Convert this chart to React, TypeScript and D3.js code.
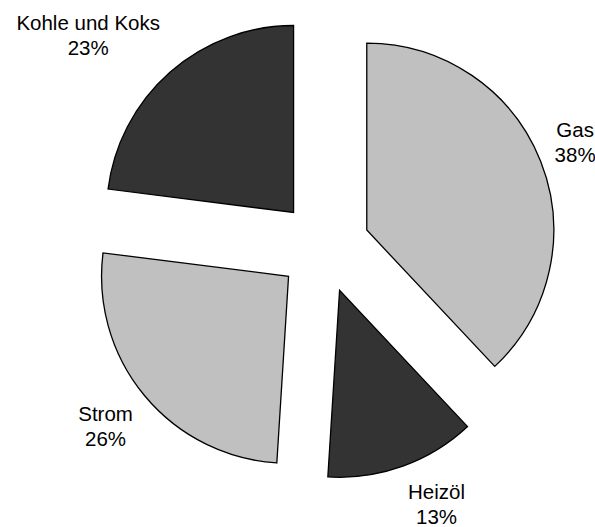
import React, { useRef, useEffect } from "react";
import { select, pie, arc, scaleOrdinal } from "d3";

const categories = ["Gas", "Heizöl", "Strom", "Kohle und Koks"];
const shares = [38, 13, 26, 23];

const width = 595;
const height = 527;

function ExplodedPie() {
  const svgRef = useRef<SVGSVGElement>(null);

  useEffect(() => {
    const svg = select(svgRef.current);
    svg.selectAll("*").remove();

    const cx = 324;
    const cy = 247;
    const radius = 187;
    const explode = 46;

    const color = scaleOrdinal<string, string>()
      .domain(categories)
      .range(["#c0c0c0", "#333333", "#c0c0c0", "#333333"]);

    const slices = pie<number>().sort(null).value((d) => d)(shares);
    const arcGen = arc<any>().innerRadius(0).outerRadius(radius);

    const g = svg.append("g").attr("transform", `translate(${cx},${cy})`);

    g.selectAll(".slice")
      .data(slices)
      .join("path")
      .attr("class", "slice")
      .attr("d", arcGen)
      .attr("transform", (s) => {
        const mid = (s.startAngle + s.endAngle) / 2;
        return `translate(${Math.sin(mid) * explode},${-Math.cos(mid) * explode})`;
      })
      .attr("fill", (s, i) => color(categories[i]))
      .attr("stroke", "#000")
      .attr("stroke-width", 1.3)
      .attr("stroke-linejoin", "miter");

    // labels outside of each exploded slice
    const clamp = (v: number) => Math.max(-1, Math.min(1, v));
    const lineH = 25;

    slices.forEach((s, i) => {
      const mid = (s.startAngle + s.endAngle) / 2;
      const sx = Math.sin(mid);
      const sy = -Math.cos(mid);
      const L = radius + explode + 15;
      const px = sx * L;
      const py = sy * L;

      const t = g
        .append("text")
        .attr("text-anchor", "middle")
        .style("font-family", "'Liberation Sans', Arial, sans-serif")
        .style("font-size", "20.5px")
        .attr("fill", "#000");
      t.append("tspan").attr("x", 0).attr("y", -6).text(categories[i]);
      t.append("tspan").attr("x", 0).attr("y", -6 + lineH).text(shares[i] + "%");

      const w = (t.node() as SVGTextElement).getBBox().width;
      const h = lineH * 2;
      const bx = px + clamp(sx * 3) * (w / 2);
      const by = py + clamp(sy * 1.4) * (h / 2);
      t.attr("transform", `translate(${bx},${by})`);
    });
  }, []);

  return (
    <svg
      ref={svgRef}
      width={width}
      height={height}
      style={{ position: "absolute", left: 0, top: 0, background: "#fff" }}
    />
  );
}

export default function App() {
  return <ExplodedPie />;
}
